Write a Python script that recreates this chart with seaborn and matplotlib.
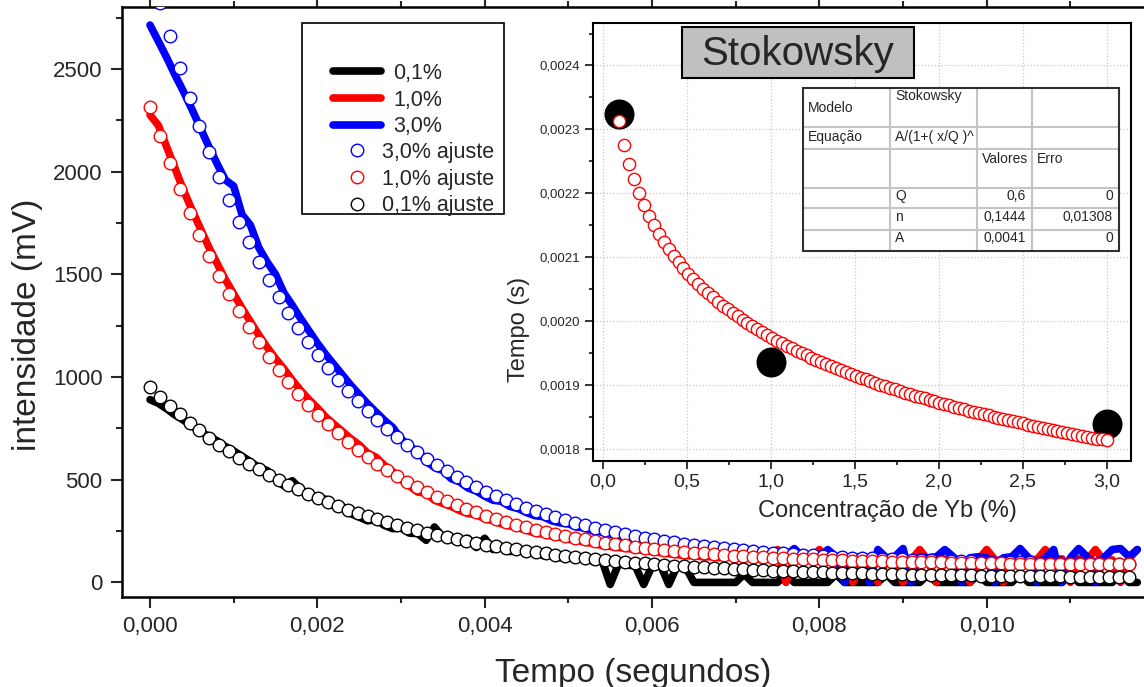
import numpy as np
import matplotlib
matplotlib.use('Agg')
import matplotlib.pyplot as plt
import matplotlib.patches as mpatches
from matplotlib.lines import Line2D
from matplotlib.ticker import MultipleLocator, FuncFormatter
import seaborn as sns

# Figure size in pixels
W, H = 1144, 687
DPI = 100

# Sampling intervals (s)
DATA_DT = 0.0001     # oscilloscope samples
FIT_DT = 0.0001182   # points of the fitted curves

# Measured decays (mV), one value per DATA_DT
black_data = [890, 872, 845, 815, 790, 762, 735, 712, 690, 662,
              640, 615, 588, 560, 545, 505, 470, 495, 455, 425,
              415, 405, 372, 370, 335, 318, 300, 305, 278, 262,
              265, 240, 238, 205, 270, 220, 210, 195, 215, 170,
              215, 160, 175, 150, 162, 140, 150, 130, 138, 120,
              130, 118, 125, 100, 110, -10, 90, 85, 80, -10,
              80, 85, -10, 80, 75, 0, 0, 0, 0, 0,
              0, 40, 0, 0, 0, 0, 40, 0, 0, 0,
              0, 0, 40, 0, 0, 0, 0, 0, 40, 0,
              0, 0, 0, 40, 0, 0, 0, 0, 0, 40,
              0, 0, 0, 0, 40, 0, 0, 0, 0, 0,
              40, 0, 0, 0, 0, 0, 40, 0, 0]
red_data = [2276, 2225, 2120, 2015, 1910, 1815, 1725, 1635, 1555, 1475,
            1405, 1335, 1270, 1205, 1145, 1090, 1040, 985, 935, 890,
            850, 805, 770, 735, 700, 670, 630, 610, 570, 540,
            500, 470, 440, 435, 400, 385, 370, 350, 335, 330,
            310, 300, 285, 275, 265, 255, 240, 235, 225, 220,
            210, 205, 195, 190, 180, 175, 170, 165, 160, 155,
            150, 145, 140, 135, 130, 130, 125, 125, 120, 160,
            120, 115, 120, 110, 120, 160, 0, 110, 115, 115,
            160, 115, 110, 110, 0, 115, 110, 0, 110, 120,
            0, 110, 160, 105, 0, 110, 115, 110, 0, 110,
            160, 110, 0, 105, 110, 115, 110, 160, 110, 115,
            0, 115, 110, 160, 105, 110, 0, 115, 160]
blue_data = [2714, 2635, 2555, 2470, 2390, 2305, 2215, 2125, 2040, 1960,
             1930, 1790, 1740, 1630, 1560, 1500, 1410, 1350, 1285, 1225,
             1165, 1110, 1060, 1010, 960, 915, 870, 830, 790, 755,
             700, 660, 640, 590, 560, 545, 505, 490, 460, 445,
             420, 400, 395, 370, 360, 340, 325, 320, 300, 290,
             285, 270, 265, 250, 245, 235, 225, 230, 210, 205,
             200, 195, 190, 175, 185, 170, 160, 165, 150, 155,
             145, 140, 160, 135, 130, 125, 130, 165, 125, 125,
             120, 160, 125, 0, 120, 125, 0, 160, 120, 125,
             165, 0, 125, 120, 125, 160, 125, 0, 120, 125,
             120, 0, 120, 125, 165, 120, 0, 120, 160, 0,
             120, 165, 125, 0, 120, 160, 165, 125, 160]

# Fitted curves (mV), one value per FIT_DT
black_fit = [950, 904, 860, 818, 778, 741, 705, 671, 638, 608,
             578, 551, 524, 499, 475, 453, 431, 411, 391, 373,
             355, 339, 323, 308, 293, 280, 267, 255, 243, 232,
             221, 211, 202, 193, 184, 176, 168, 161, 154, 147,
             141, 135, 129, 124, 119, 114, 109, 105, 100, 96,
             93, 89, 86, 82, 79, 76, 74, 71, 68, 66,
             64, 61, 59, 57, 56, 54, 52, 51, 49, 48,
             46, 45, 44, 43, 41, 40, 39, 38, 37, 37,
             36, 35, 34, 34, 33, 32, 32, 31, 30, 30,
             29, 29, 29, 28, 28, 27, 27, 27, 26, 26]
red_fit = [2316, 2174, 2042, 1917, 1801, 1692, 1590, 1494, 1404, 1321,
           1242, 1169, 1100, 1035, 975, 918, 865, 816, 769, 726,
           685, 647, 611, 578, 547, 517, 490, 464, 440, 417,
           396, 376, 358, 341, 324, 309, 295, 282, 269, 257,
           246, 236, 227, 218, 209, 201, 194, 187, 181, 174,
           169, 163, 158, 154, 149, 145, 141, 138, 135, 131,
           128, 126, 123, 121, 118, 116, 114, 112, 111, 109,
           108, 106, 105, 104, 102, 101, 100, 99, 98, 98,
           97, 96, 95, 95, 94, 93, 93, 92, 92, 92,
           91, 91, 90, 90, 90, 89, 89, 89, 89, 88]
blue_fit = [2997, 2823, 2659, 2505, 2360, 2224, 2096, 1975, 1862, 1756,
            1656, 1562, 1473, 1390, 1312, 1239, 1170, 1105, 1044, 986,
            932, 882, 834, 789, 747, 707, 670, 635, 602, 571,
            542, 515, 489, 465, 442, 421, 401, 382, 364, 347,
            332, 317, 303, 290, 278, 266, 255, 245, 235, 226,
            218, 210, 203, 196, 189, 183, 177, 171, 166, 161,
            157, 152, 148, 145, 141, 138, 135, 132, 129, 126,
            124, 121, 119, 117, 115, 113, 112, 110, 109, 107,
            106, 105, 103, 102, 101, 100, 99, 99, 98, 97,
            96, 96, 95, 94, 94, 93, 93, 92, 92, 92]

# Inset: lifetime vs Yb concentration
conc = [0.1, 1.0, 3.0]
tempo_us = [2324, 1935, 1838]
fit_conc_range = (0.1, 3.0)
fit_tempo_us = [2313.7, 2276.2, 2246.3, 2221.5, 2200.2, 2181.5, 2164.9, 2150.1, 2136.5, 2124.1,
                2112.6, 2102.0, 2092.0, 2082.8, 2074.0, 2065.8, 2057.9, 2050.5, 2043.4, 2036.7,
                2030.2, 2024.0, 2018.1, 2012.4, 2006.9, 2001.6, 1996.5, 1991.5, 1986.7, 1982.1,
                1977.6, 1973.2, 1969.0, 1964.9, 1960.9, 1957.0, 1953.2, 1949.5, 1945.9, 1942.4,
                1938.9, 1935.6, 1932.3, 1929.1, 1925.9, 1922.8, 1919.8, 1916.9, 1914.0, 1911.2,
                1908.4, 1905.6, 1903.0, 1900.3, 1897.7, 1895.2, 1892.7, 1890.2, 1887.8, 1885.5,
                1883.1, 1880.8, 1878.6, 1876.3, 1874.1, 1872.0, 1869.8, 1867.7, 1865.6, 1863.6,
                1861.6, 1859.6, 1857.6, 1855.7, 1853.8, 1851.9, 1850.1, 1848.2, 1846.4, 1844.6,
                1842.9, 1841.1, 1839.4, 1837.7, 1836.0, 1834.3, 1832.7, 1831.1, 1829.5, 1827.9,
                1826.3, 1824.7, 1823.2, 1821.7, 1820.2, 1818.7, 1817.2, 1815.7, 1814.3, 1812.9]

# Fit parameter table
table_rows = [["Modelo", "Stokowsky", "", ""],
              ["Equação", "A/(1+( x/Q )^", "", ""],
              ["", "", "Valores", "Erro"],
              ["", "Q", "0,6", "0"],
              ["", "n", "0,1444", "0,01308"],
              ["", "A", "0,0041", "0"]]

series_names = ['0,1%', '1,0%', '3,0%']
series_colors = ['black', 'red', 'blue']


def fx(px):
    return px / W


def fy(py):
    return 1 - py / H


def comma_fmt(decimals):
    def f(v, pos):
        if abs(v) < 1e-12:
            v = 0.0
        return f'{v:.{decimals}f}'.replace('.', ',')
    return FuncFormatter(f)


sns.set_style('ticks')
plt.rcParams['font.family'] = ['Liberation Sans', 'DejaVu Sans']
plt.rcParams['axes.edgecolor'] = 'black'

fig = plt.figure(figsize=(W / DPI, H / DPI), dpi=DPI)

# ---------------- main plot ----------------
ax = fig.add_axes([fx(122), fy(597), fx(1144) - fx(122), fy(7) - fy(597)])

t_data = np.arange(len(black_data)) * DATA_DT
t_fit = np.arange(len(black_fit)) * FIT_DT

for vals, col in zip([black_data, red_data, blue_data], series_colors):
    sns.lineplot(x=t_data, y=vals, color=col, linewidth=5.5, ax=ax, zorder=2)

for vals, col in [(blue_fit, 'blue'), (red_fit, 'red'), (black_fit, 'black')]:
    sns.scatterplot(x=t_fit, y=vals, marker='o', s=82, facecolor='white',
                    edgecolor=col, linewidth=1.0, ax=ax, zorder=3)

ax.set_xlim(-0.000335, 0.01188)
ax.set_ylim(-71, 2802)
ax.set_xlabel('')
ax.set_ylabel('')
ax.xaxis.set_major_locator(MultipleLocator(0.002))
ax.xaxis.set_minor_locator(MultipleLocator(0.001))
ax.yaxis.set_major_locator(MultipleLocator(500))
ax.yaxis.set_minor_locator(MultipleLocator(250))
ax.xaxis.set_major_formatter(comma_fmt(3))
ax.tick_params(which='major', direction='out', length=8, width=1.5,
               labelsize=16, pad=6, top=True, labeltop=False)
ax.tick_params(which='minor', direction='out', length=4, width=1.5, top=True)
ax.spines['right'].set_visible(False)
for s in ['left', 'bottom', 'top']:
    ax.spines[s].set_linewidth(1.8)

fig.text(fx(28), fy(325), 'intensidade (mV)', rotation=90, ha='center',
         va='center', fontsize=24)
fig.text(fx(633), fy(682), 'Tempo (segundos)', ha='center', va='baseline',
         fontsize=24)

# legend box with two groups of entries
fig.add_artist(mpatches.Rectangle((fx(302), fy(214)), fx(504) - fx(302), fy(23) - fy(214),
                                  transform=fig.transFigure, facecolor='white',
                                  edgecolor='black', linewidth=1.2, zorder=1))
line_handles = [Line2D([], [], color=c, linewidth=5.5) for c in series_colors]
fig.legend(handles=line_handles, labels=series_names, loc='upper left',
           bbox_to_anchor=(fx(333), fy(63)), frameon=False, fontsize=15.5,
           handlelength=2.23, handletextpad=0.56, labelspacing=0.26,
           borderpad=0, borderaxespad=0)
fit_handles = [Line2D([], [], linestyle='', marker='o', markersize=9,
                      markerfacecolor='white', markeredgecolor=c, markeredgewidth=1.0)
               for c in ['blue', 'red', 'black']]
fig.legend(handles=fit_handles, labels=[n + ' ajuste' for n in ['3,0%', '1,0%', '0,1%']],
           loc='upper left', bbox_to_anchor=(fx(346), fy(142)), frameon=False,
           fontsize=15.5, handlelength=1.0, handletextpad=0.66, labelspacing=0.26,
           borderpad=0, borderaxespad=0)

# ---------------- inset ----------------
axin = fig.add_axes([fx(593), fy(461), fx(1131) - fx(593), fy(22.7) - fy(461)])
axin.set_facecolor('white')
axin.grid(True, which='major', linestyle=':', color='#c8c8c8', linewidth=0.9)
axin.set_axisbelow(True)

sns.scatterplot(x=conc, y=np.array(tempo_us) * 1e-6, s=400, color='black',
                edgecolor='black', ax=axin, zorder=3)
fit_conc = np.linspace(fit_conc_range[0], fit_conc_range[1], len(fit_tempo_us))
sns.scatterplot(x=fit_conc, y=np.array(fit_tempo_us) * 1e-6, s=78, facecolor='white',
                edgecolor='red', linewidth=1.0, ax=axin, zorder=4)

axin.set_xlim(-0.0577, 3.1446)
axin.set_ylim(0.0017806, 0.002467)
axin.set_xlabel('')
axin.set_ylabel('')
axin.xaxis.set_major_locator(MultipleLocator(0.5))
axin.xaxis.set_minor_locator(MultipleLocator(0.25))
axin.yaxis.set_major_locator(MultipleLocator(0.0001))
axin.yaxis.set_minor_locator(MultipleLocator(0.00005))
axin.xaxis.set_major_formatter(comma_fmt(1))
axin.yaxis.set_major_formatter(comma_fmt(4))
axin.tick_params(which='major', direction='out', length=6, width=1.3, pad=3)
axin.tick_params(which='minor', direction='out', length=3, width=1.3)
axin.tick_params(axis='x', labelsize=14)
axin.tick_params(axis='y', labelsize=9.5)
for s in axin.spines.values():
    s.set_linewidth(1.5)

fig.text(fx(518.5), fy(329), 'Tempo (s)', rotation=90, ha='center', va='center',
         fontsize=17)
fig.text(fx(887.5), fy(511), 'Concentração de Yb (%)', ha='center', va='center',
         fontsize=17)

# title box
fig.add_artist(mpatches.Rectangle((fx(682), fy(77.7)), fx(913.6) - fx(682), fy(27) - fy(77.7),
                                  transform=fig.transFigure, facecolor='#c0c0c0',
                                  edgecolor='black', linewidth=1.5, zorder=1))
fig.text(fx(797.8), fy(54), 'Stokowsky', ha='center', va='center', fontsize=29)

# parameter table
col_x = [803, 890, 976.5, 1032, 1119]
row_y = [88, 127, 149, 187.5, 208.4, 229.7, 251]
fig.add_artist(mpatches.Rectangle((fx(col_x[0]), fy(row_y[-1])), fx(col_x[-1]) - fx(col_x[0]),
                                  fy(row_y[0]) - fy(row_y[-1]), transform=fig.transFigure,
                                  facecolor='white', edgecolor='none', zorder=1))
for xx in col_x[1:-1]:
    fig.add_artist(Line2D([fx(xx), fx(xx)], [fy(row_y[0]), fy(row_y[-1])],
                          color='#c4c4c4', linewidth=1.5, zorder=2))
for yy in row_y[1:-1]:
    fig.add_artist(Line2D([fx(col_x[0]), fx(col_x[-1])], [fy(yy), fy(yy)],
                          color='#c4c4c4', linewidth=1.5, zorder=2))
fig.add_artist(mpatches.Rectangle((fx(col_x[0]), fy(row_y[-1])), fx(col_x[-1]) - fx(col_x[0]),
                                  fy(row_y[0]) - fy(row_y[-1]), transform=fig.transFigure,
                                  facecolor='none', edgecolor='#303030', linewidth=1.5, zorder=2))

text_y = [[108, 96, 96, 96], [137, 137, 137, 137], [159, 159, 159, 159],
          [196, 196, 196, 196], [217, 217, 217, 217], [238, 238, 238, 238]]
for r, row in enumerate(table_rows):
    for c, txt in enumerate(row):
        if not txt:
            continue
        if c >= 2 and r >= 3:
            fig.text(fx(col_x[c + 1] - 6), fy(text_y[r][c]), txt, ha='right',
                     va='center', fontsize=10)
        else:
            fig.text(fx(col_x[c] + 5), fy(text_y[r][c]), txt, ha='left',
                     va='center', fontsize=10)

fig.savefig('out.png', dpi=DPI)
